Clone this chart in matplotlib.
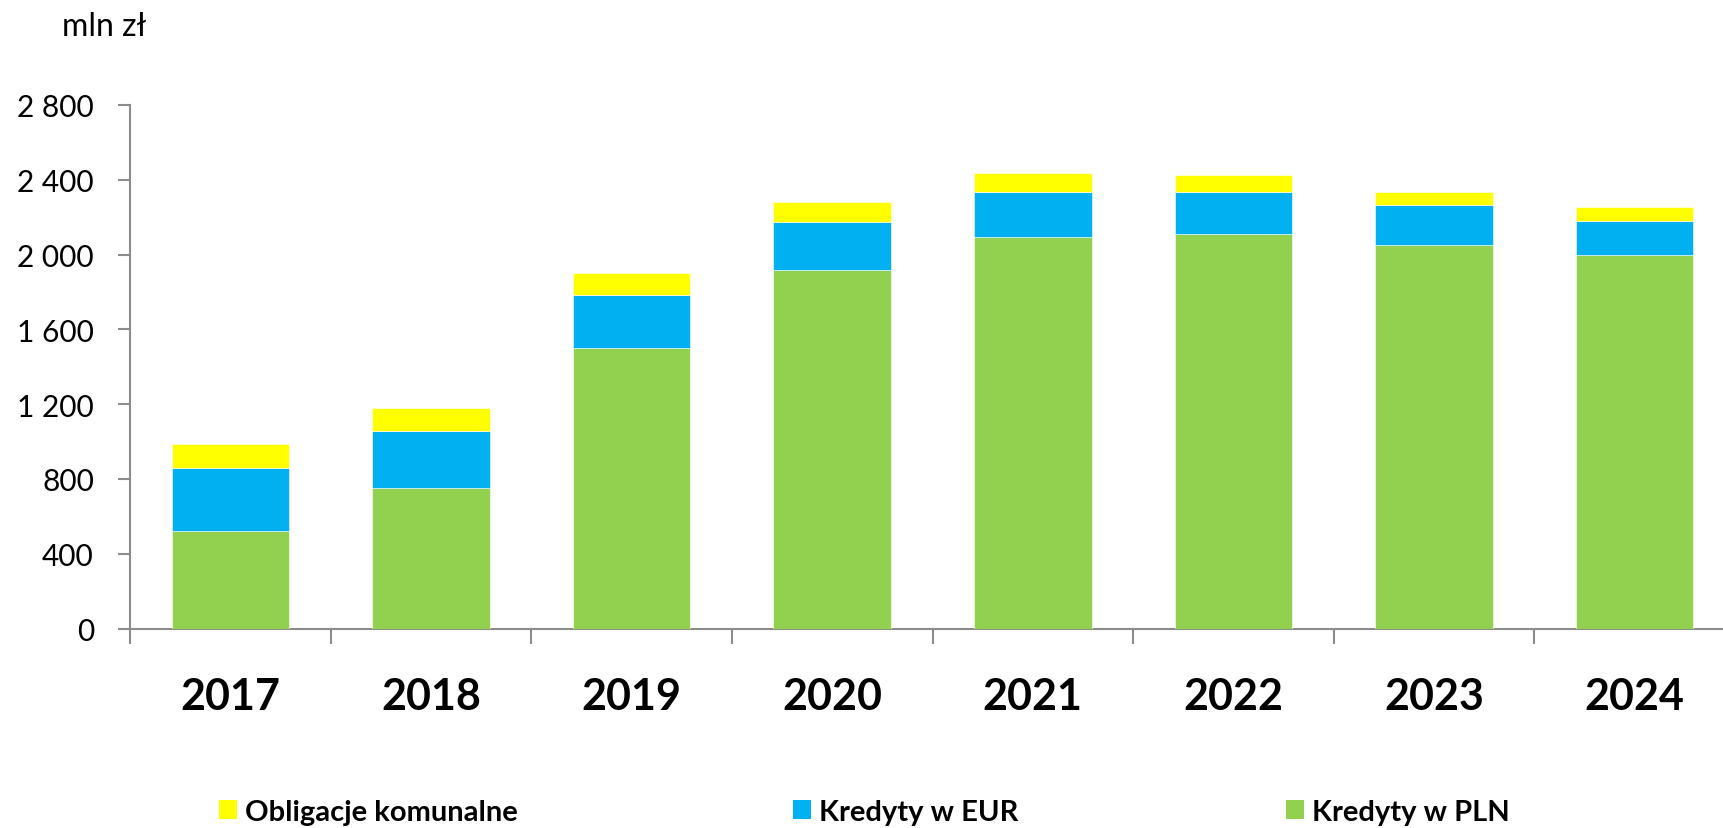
import matplotlib
matplotlib.use('Agg')
import matplotlib.pyplot as plt
import matplotlib.ticker as mticker
from matplotlib.patches import Patch

# ── Data (mln zł) ───────────────────────────────────────────
years = ['2017', '2018', '2019', '2020', '2021', '2022', '2023', '2024']
kredyty_pln = [523, 753, 1500, 1918, 2094, 2112, 2053, 2000]
kredyty_eur = [336, 306, 282, 258, 241, 223, 212, 182]
obligacje = [129, 123, 118, 106, 100, 89, 70, 71]

yticks = [0, 400, 800, 1200, 1600, 2000, 2400, 2800]

# ── Colours ─────────────────────────────────────────────────
YELLOW = '#FFFF00'
BLUE = '#00B0F0'
GREEN = '#92D050'
AXIS = '#8C8C8C'

plt.rcParams['font.family'] = ['Lato', 'DejaVu Sans']

fig = plt.figure(figsize=(17.23, 8.29), dpi=100)
ax = fig.add_axes([130 / 1723, 1 - 629.5 / 829, 1605 / 1723, 523.5 / 829])

x = list(range(len(years)))
w = 0.586
bottom_eur = kredyty_pln
bottom_obl = [p + e for p, e in zip(kredyty_pln, kredyty_eur)]

ax.bar(x, kredyty_pln, width=w, color=GREEN, edgecolor='white', linewidth=0.4, zorder=3)
ax.bar(x, kredyty_eur, width=w, bottom=bottom_eur, color=BLUE, edgecolor='white',
       linewidth=0.4, zorder=3)
ax.bar(x, obligacje, width=w, bottom=bottom_obl, color=YELLOW, edgecolor='white',
       linewidth=0.4, zorder=3)

ax.set_xlim(-0.5, len(years) - 0.5)
ax.set_ylim(0, 2800)

# y axis
ax.set_yticks(yticks)
ax.yaxis.set_major_formatter(mticker.FuncFormatter(lambda v, p: f'{v:,.0f}'.replace(',', ' ')))
ax.tick_params(axis='y', direction='out', length=9, width=1.5, color=AXIS,
               labelsize=21.5, pad=17)

# x axis: tick marks between categories, labels at centres
ax.set_xticks([i - 0.5 for i in range(len(years) + 1)])
ax.set_xticklabels([])
ax.set_xticks(x, minor=True)
ax.set_xticklabels(years, minor=True, fontsize=31, fontweight='bold')
ax.tick_params(axis='x', which='major', direction='out', length=11, width=1.5, color=AXIS)
ax.tick_params(axis='x', which='minor', length=0, pad=34)

for s in ['top', 'right']:
    ax.spines[s].set_visible(False)
for s in ['left', 'bottom']:
    ax.spines[s].set_color(AXIS)
    ax.spines[s].set_linewidth(1.5)

fig.text(62 / 1723, 1 - 27 / 829, 'mln zł', fontsize=23, va='center', ha='left')

# legend: one entry per block, placed like the original
entries = [(YELLOW, 'Obligacje komunalne', 219),
           (BLUE, 'Kredyty w EUR', 793),
           (GREEN, 'Kredyty w PLN', 1286)]
for col, lab, xpos in entries:
    fig.legend(handles=[Patch(facecolor=col, label=lab)], loc='center left',
               bbox_to_anchor=(xpos / 1723, 1 - 813 / 829), borderaxespad=0, borderpad=0,
               frameon=False, handlelength=0.6, handleheight=0.6, handletextpad=0.3,
               prop={'weight': 'bold', 'size': 21})

fig.savefig('out.png', dpi=100)
